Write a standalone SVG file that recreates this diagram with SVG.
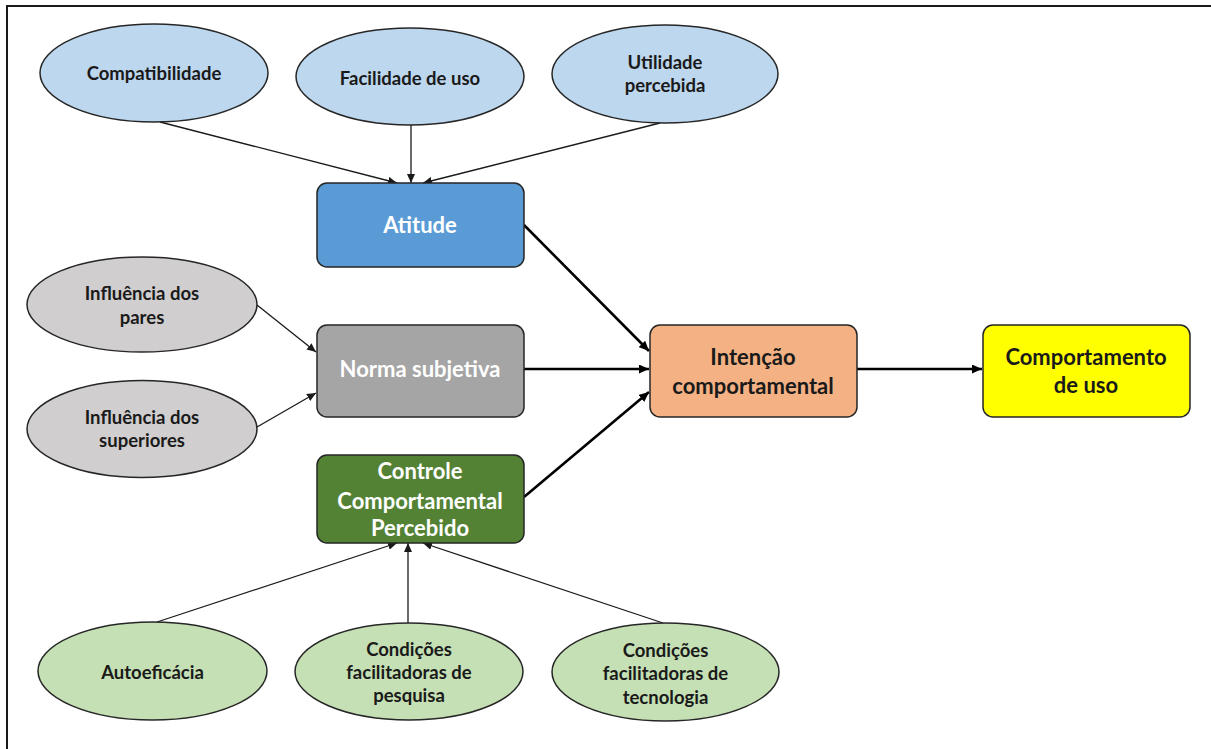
<svg xmlns="http://www.w3.org/2000/svg" width="1211" height="749" viewBox="0 0 1211 749">
  <defs>
    <style>
      .ell { stroke: #262626; stroke-width: 1.5; }
      .box { stroke: #262626; stroke-width: 1.5; }
      .blue-e { fill: #BDD7EE; }
      .gray-e { fill: #D0CECE; }
      .green-e { fill: #C5E0B4; }
      .lbl { font-family: Lato, "Liberation Sans", sans-serif; font-weight: bold; text-anchor: middle; fill: #1a1a1a; }
      .sm { font-size: 18.5px; }
      .lg { font-size: 22px; }
      .wt { fill: #ffffff; }
      .thin { stroke: #1a1a1a; stroke-width: 1.3; fill: none; marker-end: url(#ah); }
      .thick { stroke: #000000; stroke-width: 2.6; fill: none; marker-end: url(#ahb); }
    </style>
    <marker id="ah" markerUnits="userSpaceOnUse" markerWidth="10" markerHeight="8" refX="9" refY="4" orient="auto">
      <path d="M0,0 L9,4 L0,8 Z" fill="#1a1a1a"/>
    </marker>
    <marker id="ahb" markerUnits="userSpaceOnUse" markerWidth="11" markerHeight="9" refX="10" refY="4.5" orient="auto">
      <path d="M0,0 L10,4.5 L0,9 Z" fill="#000000"/>
    </marker>
  </defs>

  <rect x="0" y="0" width="1211" height="749" fill="#ffffff"/>
  <!-- outer frame, open to the right and bottom -->
  <rect x="7" y="6" width="1300" height="800" fill="none" stroke="#1a1a1a" stroke-width="2"/>

  <g id="connectors">
    <line class="thin" x1="160" y1="122" x2="397" y2="183"/>
    <line class="thin" x1="411" y1="125" x2="411" y2="183"/>
    <line class="thin" x1="660" y1="123" x2="423" y2="183"/>
    <line class="thin" x1="257" y1="305" x2="316" y2="352"/>
    <line class="thin" x1="257" y1="427" x2="316" y2="393"/>
    <line class="thin" x1="157" y1="622" x2="397" y2="543"/>
    <line class="thin" x1="408" y1="623" x2="408" y2="543"/>
    <line class="thin" x1="663" y1="623" x2="423" y2="543"/>
    <line class="thick" x1="524" y1="225" x2="649" y2="351"/>
    <line class="thick" x1="524" y1="369" x2="649" y2="369"/>
    <line class="thick" x1="524" y1="497" x2="649" y2="392"/>
    <line class="thick" x1="857" y1="369" x2="982" y2="369"/>
  </g>

  <g id="compatibilidade">
    <ellipse class="ell blue-e" cx="154" cy="73" rx="114" ry="49"/>
    <text class="lbl sm" x="154" y="79.5">Compatibilidade</text>
  </g>
  <g id="facilidade">
    <ellipse class="ell blue-e" cx="410" cy="76.5" rx="114" ry="48.5"/>
    <text class="lbl sm" x="410" y="84.5">Facilidade de uso</text>
  </g>
  <g id="utilidade">
    <ellipse class="ell blue-e" cx="665" cy="74" rx="113" ry="49"/>
    <text class="lbl sm" x="665" y="68.5">Utilidade</text>
    <text class="lbl sm" x="665" y="91.5">percebida</text>
  </g>

  <g id="atitude">
    <rect class="box" x="317" y="183" width="207" height="84" rx="10" fill="#5B9BD5"/>
    <text class="lbl lg wt" x="420" y="233">Atitude</text>
  </g>
  <g id="norma">
    <rect class="box" x="317" y="325" width="207" height="92" rx="10" fill="#A5A5A5"/>
    <text class="lbl lg wt" x="420" y="377">Norma subjetiva</text>
  </g>
  <g id="controle">
    <rect class="box" x="317" y="455" width="207" height="88" rx="10" fill="#548235"/>
    <text class="lbl lg wt" x="420" y="479">Controle</text>
    <text class="lbl lg wt" x="420" y="509">Comportamental</text>
    <text class="lbl lg wt" x="420" y="536">Percebido</text>
  </g>

  <g id="intencao">
    <rect class="box" x="650" y="325" width="207" height="92" rx="10" fill="#F4B183"/>
    <text class="lbl lg" x="753" y="365">Intenção</text>
    <text class="lbl lg" x="753" y="394">comportamental</text>
  </g>
  <g id="comportamento">
    <rect class="box" x="983" y="325" width="207" height="92" rx="10" fill="#FFFF00"/>
    <text class="lbl lg" x="1086" y="365">Comportamento</text>
    <text class="lbl lg" x="1086" y="393">de uso</text>
  </g>

  <g id="pares">
    <ellipse class="ell gray-e" cx="142" cy="304.5" rx="115" ry="47.5"/>
    <text class="lbl sm" x="142" y="299.5">Influência dos</text>
    <text class="lbl sm" x="142" y="323.5">pares</text>
  </g>
  <g id="superiores">
    <ellipse class="ell gray-e" cx="142" cy="429" rx="115" ry="48.5"/>
    <text class="lbl sm" x="142" y="423.5">Influência dos</text>
    <text class="lbl sm" x="142" y="446.5">superiores</text>
  </g>

  <g id="autoeficacia">
    <ellipse class="ell green-e" cx="152.5" cy="671" rx="114.5" ry="49"/>
    <text class="lbl sm" x="152.5" y="678.5">Autoeficácia</text>
  </g>
  <g id="pesquisa">
    <ellipse class="ell green-e" cx="409" cy="671.5" rx="114" ry="48.5"/>
    <text class="lbl sm" x="409" y="655.5">Condições</text>
    <text class="lbl sm" x="409" y="678.5">facilitadoras de</text>
    <text class="lbl sm" x="409" y="701.5">pesquisa</text>
  </g>
  <g id="tecnologia">
    <ellipse class="ell green-e" cx="665.5" cy="672" rx="113.5" ry="49"/>
    <text class="lbl sm" x="665.5" y="656.5">Condições</text>
    <text class="lbl sm" x="665.5" y="679.5">facilitadoras de</text>
    <text class="lbl sm" x="665.5" y="703.5">tecnologia</text>
  </g>
</svg>
